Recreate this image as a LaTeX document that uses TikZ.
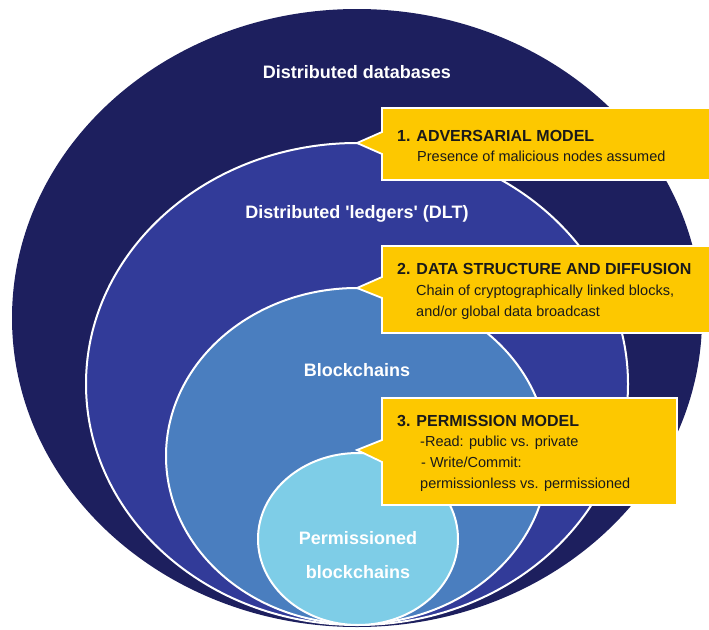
\documentclass[tikz,border=0pt]{standalone}
\usepackage{fontspec}
\setmainfont{Liberation Sans}
\definecolor{navy}{HTML}{1D1F5E}
\definecolor{dltblue}{HTML}{323B99}
\definecolor{bcblue}{HTML}{4A7EBF}
\definecolor{pbblue}{HTML}{7ECDE7}
\definecolor{gold}{HTML}{FDC800}
\definecolor{ink}{HTML}{1A1A1A}
\begin{document}
\begin{tikzpicture}[x=1pt,y=-1pt,
  ring/.style={draw=white, line width=2pt},
  lbl/.style={text=white, font=\bfseries\fontsize{18}{22}\selectfont, inner sep=0},
  boxshape/.style={fill=gold, draw=white, line width=1.8pt, line join=miter},
  ttl/.style={anchor=base west, text=ink, font=\bfseries\fontsize{16}{19}\selectfont, inner sep=0},
  body/.style={anchor=base west, text=ink, font=\fontsize{14.5}{17}\selectfont, inner sep=0}]
\useasboundingbox (0,0) rectangle (709,629);
\clip (0,0) rectangle (709,629);
% nested sets
\fill[navy] (357,318) ellipse [x radius=345, y radius=309];
\filldraw[fill=dltblue, ring] (357,384) ellipse [x radius=271, y radius=241];
\filldraw[fill=bcblue, ring] (357,456) ellipse [x radius=191, y radius=168];
\filldraw[fill=pbblue, ring] (358,539) ellipse [x radius=100, y radius=86];
% set labels
\node[lbl] (ddb) at (357,72) {Distributed databases};
\node[lbl] (dlt) at (357,214) {Distributed \textquotesingle ledgers\textquotesingle\ (DLT)};
\node[lbl] (bc) at (357,370) {Blockchains};
\node[lbl, align=center, font=\bfseries\fontsize{18}{34}\selectfont] (pb) at (358,555) {Permissioned\\blockchains};
% callouts
\filldraw[boxshape] (382,108) -- (715,108) -- (715,180) -- (382,180) -- (382,154) -- (357,143) -- (382,132) -- cycle;
\filldraw[boxshape] (382,246) -- (715,246) -- (715,333) -- (382,333) -- (382,298) -- (357,288) -- (382,277) -- cycle;
\filldraw[boxshape] (382,398) -- (677,398) -- (677,505) -- (382,505) -- (382,462) -- (357,450) -- (382,440) -- cycle;
% callout texts
\node[ttl] (t1) at (397,141) {1. ADVERSARIAL MODEL};
\node[body] (b1) at (417,161) {Presence of malicious nodes assumed};
\node[ttl] (t2) at (397,274) {2. DATA STRUCTURE AND DIFFUSION};
\node[body] (b2a) at (416,295) {Chain of cryptographically linked blocks,};
\node[body] (b2b) at (416,316) {and/or global data broadcast};
\node[ttl] (t3) at (397,426) {3. PERMISSION MODEL};
\node[body] (b3a) at (420,446) {-Read: public vs. private};
\node[body] (b3b) at (421,467) {- Write/Commit:};
\node[body] (b3c) at (420,488) {permissionless vs. permissioned};
\end{tikzpicture}
\end{document}
